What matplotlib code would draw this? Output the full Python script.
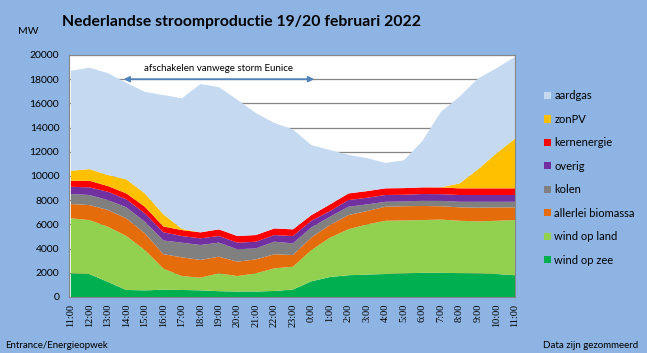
import matplotlib.pyplot as plt
from matplotlib.patches import Patch

plt.rcParams['font.family'] = ['Lato', 'DejaVu Sans']

# uren (19 feb 11:00 t/m 20 feb 11:00)
hours = ["11:00", "12:00", "13:00", "14:00", "15:00", "16:00", "17:00", "18:00",
         "19:00", "20:00", "21:00", "22:00", "23:00", "0:00", "1:00", "2:00",
         "3:00", "4:00", "5:00", "6:00", "7:00", "8:00", "9:00", "10:00", "11:00"]

# MW per bron, van onder naar boven gestapeld
wind_zee = [1950, 1900, 1250, 580, 550, 600, 580, 550, 480, 450, 450, 500, 620,
            1300, 1650, 1800, 1850, 1900, 1950, 2000, 2000, 1970, 1950, 1900, 1800]
wind_land = [4550, 4460, 4560, 4460, 3330, 1750, 1150, 1050, 1480, 1280, 1510, 1870, 1880,
             2580, 3250, 3800, 4150, 4400, 4380, 4360, 4400, 4330, 4300, 4400, 4560]
biomassa = [1180, 1240, 1380, 1460, 1380, 1190, 1550, 1460, 1370, 1190, 1150, 1160, 970,
            1050, 1050, 1170, 1100, 1160, 1170, 1160, 1100, 1110, 1130, 1100, 1050]
kolen = [830, 830, 820, 910, 960, 1130, 1210, 1240, 1160, 1020, 910, 1040, 960,
         830, 680, 690, 550, 410, 400, 440, 450, 460, 490, 470, 460]
overig = [600, 630, 690, 660, 690, 680, 550, 550, 550, 550, 550, 550, 610,
          540, 470, 550, 550, 560, 550, 550, 550, 560, 560, 560, 560]
kern = [500, 550, 470, 490, 550, 480, 490, 490, 550, 550, 550, 550, 550,
        470, 550, 550, 550, 550, 550, 550, 550, 550, 550, 550, 550]
zon_pv = [820, 960, 910, 1160, 1100, 1000, 100, 0, 0, 0, 0, 0, 0,
          0, 0, 0, 0, 0, 0, 0, 20, 400, 1570, 2900, 4100]
aardgas = [8270, 8380, 8420, 7980, 8400, 9860, 10790, 12260, 11760, 11260, 10080, 8710, 8260,
           5780, 4500, 3190, 2730, 2100, 2300, 3840, 6250, 7170, 7500, 7020, 6770]

series = [wind_zee, wind_land, biomassa, kolen, overig, kern, zon_pv, aardgas]
labels = ["wind op zee", "wind op land", "allerlei biomassa", "kolen", "overig",
          "kernenergie", "zonPV", "aardgas"]
colors = ["#00B050", "#92D050", "#E46C0A", "#808080", "#7030A0",
          "#FF0000", "#FFC000", "#C5D9F1"]

bg = "#8DB4E2"
fig = plt.figure(figsize=(6.47, 3.53), dpi=100, facecolor=bg)
ax = fig.add_axes([69 / 647, 1 - 297 / 353, 446 / 647, 242 / 353])
ax.set_facecolor("white")

x = list(range(len(hours)))
ax.stackplot(x, *series, colors=colors, linewidth=0, zorder=2)

ax.set_xlim(-0.1, len(hours) - 1)
ax.set_ylim(0, 20000)
ax.set_yticks(range(0, 20001, 2000))
ax.yaxis.grid(True, color="#868686", linewidth=0.9, zorder=0)
ax.set_axisbelow(True)
ax.set_xticks(x)
ax.set_xticklabels(hours, rotation=90, fontsize=7.5, family=['Liberation Serif'])
ax.tick_params(axis="y", labelsize=7.5, length=0, pad=7)
ax.tick_params(axis="x", length=0, pad=5)
for s in ax.spines.values():
    s.set_color("#868686")
    s.set_linewidth(0.8)

# pijl storm Eunice
ax.annotate("", xy=(2.7, 18000), xytext=(13.3, 18000),
            arrowprops=dict(arrowstyle="<|-|>", color="#4F81BD", lw=1.3,
                            mutation_scale=8), zorder=5)
ax.text(8.0, 18500, "afschakelen vanwege storm Eunice", ha="center", va="bottom",
        fontsize=7, zorder=5)

fig.text(241 / 647, 1 - 22 / 353, "Nederlandse stroomproductie 19/20 februari 2022",
         ha="center", va="center", fontsize=11.3, fontweight="bold")
fig.text(18 / 647, 1 - 32 / 353, "MW", ha="left", va="center", fontsize=7.5)
fig.text(5 / 647, 1 - 346 / 353, "Entrance/Energieopwek", ha="left", va="center", fontsize=7)
fig.text(638 / 647, 1 - 345 / 353, "Data zijn gezommeerd", ha="right", va="center", fontsize=7)

handles = [Patch(facecolor=c, edgecolor="none") for c in colors][::-1]
fig.legend(handles, labels[::-1], loc="upper left", bbox_to_anchor=(540 / 647, 1 - 86 / 353),
           frameon=False, fontsize=8, handlelength=0.6, handleheight=0.6,
           handletextpad=0.3, labelspacing=1.12, borderaxespad=0)

fig.savefig("out.png", dpi=100, facecolor=bg)
